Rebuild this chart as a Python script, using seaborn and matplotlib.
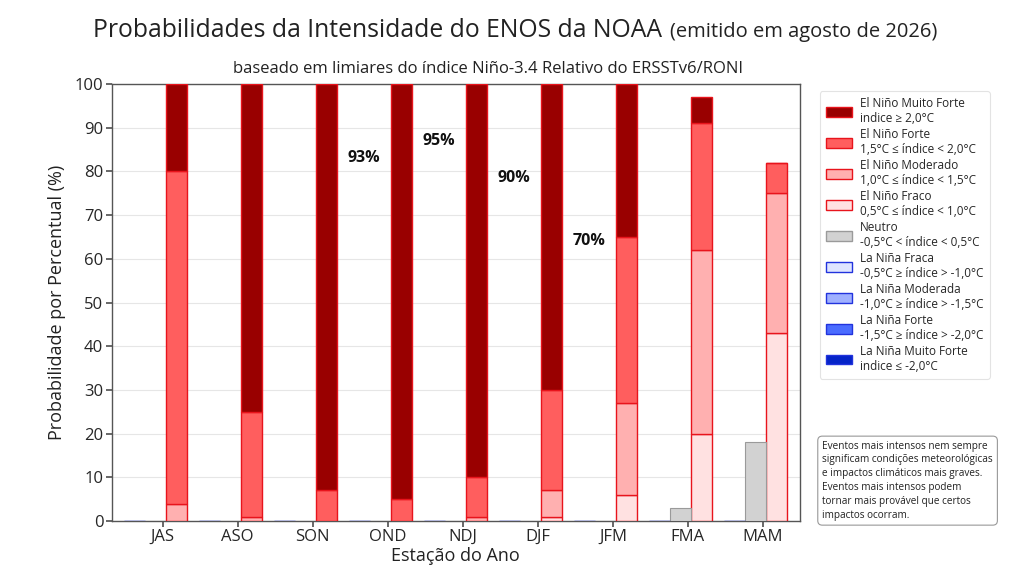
import numpy as np
import matplotlib
matplotlib.use("Agg")
import matplotlib.pyplot as plt
import seaborn as sns
from matplotlib.patches import Patch

# estações e probabilidades (%)
seasons = ["JAS", "ASO", "SON", "OND", "NDJ", "DJF", "JFM", "FMA", "MAM"]

nino_fraco = [0, 0, 0, 0, 0, 1, 6, 20, 43]
nino_moderado = [4, 1, 0, 0, 1, 6, 21, 42, 32]
nino_forte = [76, 24, 7, 5, 9, 23, 38, 29, 7]
nino_muito_forte = [20, 75, 93, 95, 90, 70, 35, 6, 0]

neutro = [0, 0, 0, 0, 0, 0, 0, 3, 18]

nina_fraca = [0, 0, 0, 0, 0, 0, 0, 0, 0]
nina_moderada = [0, 0, 0, 0, 0, 0, 0, 0, 0]
nina_forte = [0, 0, 0, 0, 0, 0, 0, 0, 0]
nina_muito_forte = [0, 0, 0, 0, 0, 0, 0, 0, 0]

# rótulos de porcentagem (Muito Forte)
label_seasons = ["SON", "OND", "NDJ", "DJF"]
label_offsets = [-10, -8, -11.5, -6]

legend_labels = [
    "El Niño Muito Forte\nindice ≥ 2,0°C",
    "El Niño Forte\n1,5°C ≤ índice < 2,0°C",
    "El Niño Moderado\n1,0°C ≤ índice < 1,5°C",
    "El Niño Fraco\n0,5°C ≤ índice < 1,0°C",
    "Neutro\n-0,5°C < índice < 0,5°C",
    "La Niña Fraca\n-0,5°C ≥ índice > -1,0°C",
    "La Niña Moderada\n-1,0°C ≥ índice > -1,5°C",
    "La Niña Forte\n-1,5°C ≥ índice > -2,0°C",
    "La Niña Muito Forte\nindice ≤ -2,0°C",
]


def main():
    sns.set_theme(style="whitegrid")
    plt.rcParams["font.family"] = ["Open Sans", "DejaVu Sans"]

    red_edge = "#e8141c"
    blue_edge = "#2233dd"
    nino_colors = ["#ffe1e1", "#ffb0b0", "#ff5e5e", "#990000"]
    nina_colors = ["#dfe5ff", "#9fb0ff", "#4a6cff", "#0524c8"]
    neutro_color = "#d2d2d2"

    fig = plt.figure(figsize=(10.24, 5.76), dpi=100)
    ax = fig.add_axes([0.109, 0.0955, 0.672, 0.7585])

    x = np.arange(len(seasons))
    w = 0.28
    shift = 0.04

    # El Niño empilhado
    nino_layers = [nino_fraco, nino_moderado, nino_forte, nino_muito_forte]
    bottom = np.zeros(len(seasons))
    for vals, col in zip(nino_layers, nino_colors):
        vals = np.array(vals, dtype=float)
        ax.bar(x + 0.5 * w + shift, vals, w, bottom=bottom, color=col,
               edgecolor=red_edge, linewidth=1.0, zorder=3)
        bottom += vals

    # Neutro
    ax.bar(x - 0.5 * w + shift, neutro, w, color=neutro_color,
           edgecolor="#9a9a9a", linewidth=0.8, zorder=3)

    # La Niña empilhado
    nina_layers = [nina_fraca, nina_moderada, nina_forte, nina_muito_forte]
    bottom = np.zeros(len(seasons))
    for vals, col in zip(nina_layers, nina_colors):
        vals = np.array(vals, dtype=float)
        ax.bar(x - 1.5 * w + shift, vals, w, bottom=bottom, color=col,
               edgecolor=blue_edge, linewidth=0.8, zorder=3)
        bottom += vals

    for s, off in zip(label_seasons, label_offsets):
        i = seasons.index(s)
        v = nino_muito_forte[i]
        ax.text(i + 0.68, v + off, f"{v}%", ha="center", va="center",
                fontsize=11.5, fontweight="bold", color="#111111", zorder=4)

    ax.set_xlim(-0.68, 8.49)
    ax.set_ylim(0, 100)
    ax.set_yticks(np.arange(0, 101, 10))
    ax.set_xticks(x)
    ax.set_xticklabels(seasons)
    ax.tick_params(axis="both", labelsize=12, length=4, color="#555555",
                   left=True, bottom=True, pad=2)
    ax.grid(axis="x", visible=False)
    ax.grid(axis="y", color="#e6e6e6", linewidth=0.8)
    for sp in ax.spines.values():
        sp.set_color("#555555")
        sp.set_linewidth(1.0)

    ax.set_ylabel("Probabilidade por Percentual (%)", fontsize=13,
                  color="#222222", labelpad=6)
    ax.set_xlabel("Estação do Ano", fontsize=13, color="#222222",
                  labelpad=1)

    fig.text(0.091, 0.935, "Probabilidades da Intensidade do ENOS da NOAA",
             fontsize=17.8, ha="left", va="baseline", color="#222222")
    fig.text(0.915, 0.935, "(emitido em agosto de 2026)",
             fontsize=14.5, ha="right", va="baseline", color="#222222")
    fig.text(0.477, 0.880,
             "baseado em limiares do índice Niño-3.4 Relativo do ERSSTv6/RONI",
             fontsize=12, ha="center", va="center", color="#222222")

    handles = []
    for col in nino_colors[::-1]:
        handles.append(Patch(facecolor=col, edgecolor=red_edge))
    handles.append(Patch(facecolor=neutro_color, edgecolor="#9a9a9a"))
    for col in nina_colors:
        handles.append(Patch(facecolor=col, edgecolor=blue_edge))

    leg = fig.legend(handles, legend_labels, loc="upper left",
                     bbox_to_anchor=(0.795, 0.852), fontsize=8.5,
                     frameon=True, labelspacing=0.25, handlelength=2.2,
                     handleheight=0.9, borderpad=0.5, handletextpad=0.7)
    leg.get_frame().set_edgecolor("#dddddd")
    leg.get_frame().set_linewidth(0.8)

    fig.text(0.803, 0.235,
             "Eventos mais intensos nem sempre\n"
             "significam condições meteorológicas\n"
             "e impactos climáticos mais graves.\n"
             "Eventos mais intensos podem\n"
             "tornar mais provável que certos\n"
             "impactos ocorram.",
             fontsize=7.2, ha="left", va="top", color="#222222",
             linespacing=1.35,
             bbox=dict(boxstyle="round,pad=0.45", facecolor="white",
                       edgecolor="#999999", linewidth=0.8))

    plt.savefig("out.png", dpi=100)
    plt.close()


if __name__ == "__main__":
    main()
